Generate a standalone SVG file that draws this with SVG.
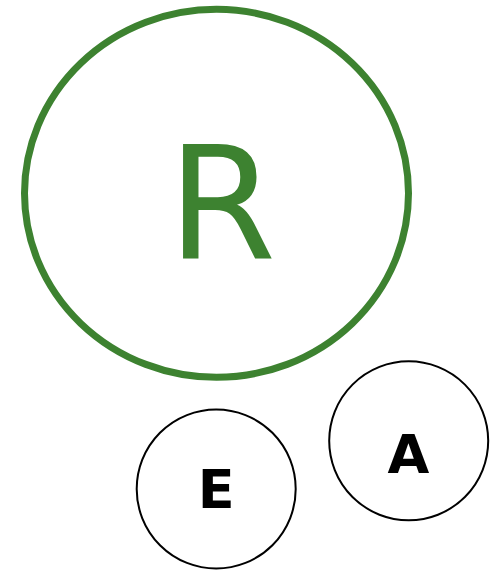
<svg xmlns="http://www.w3.org/2000/svg" width="495" height="572" viewBox="0 0 495 572">
<style>
.node{fill:none;stroke:#000;stroke-width:2}
.lbl{font-family:"DejaVu Sans",sans-serif;font-weight:bold;font-size:54px;fill:#000;text-anchor:middle}
</style>
<rect width="495" height="572" fill="#fff"/>
<g id="connectors"></g>
<g id="node-R">
<ellipse cx="216.5" cy="193.3" rx="192" ry="184" fill="none" stroke="#3d8230" stroke-width="7"/>
<text x="222" y="257.7" font-family="DejaVu Sans, sans-serif" font-size="156" fill="#3d8230" text-anchor="middle">R</text>
</g>
<g id="node-E">
<circle class="node" cx="216.2" cy="489" r="79.5"/>
<text class="lbl" x="216.3" y="508.3">E</text>
</g>
<g id="node-A">
<circle class="node" cx="408.7" cy="440.8" r="79.5"/>
<text class="lbl" x="408.5" y="473.3">A</text>
</g>
</svg>
